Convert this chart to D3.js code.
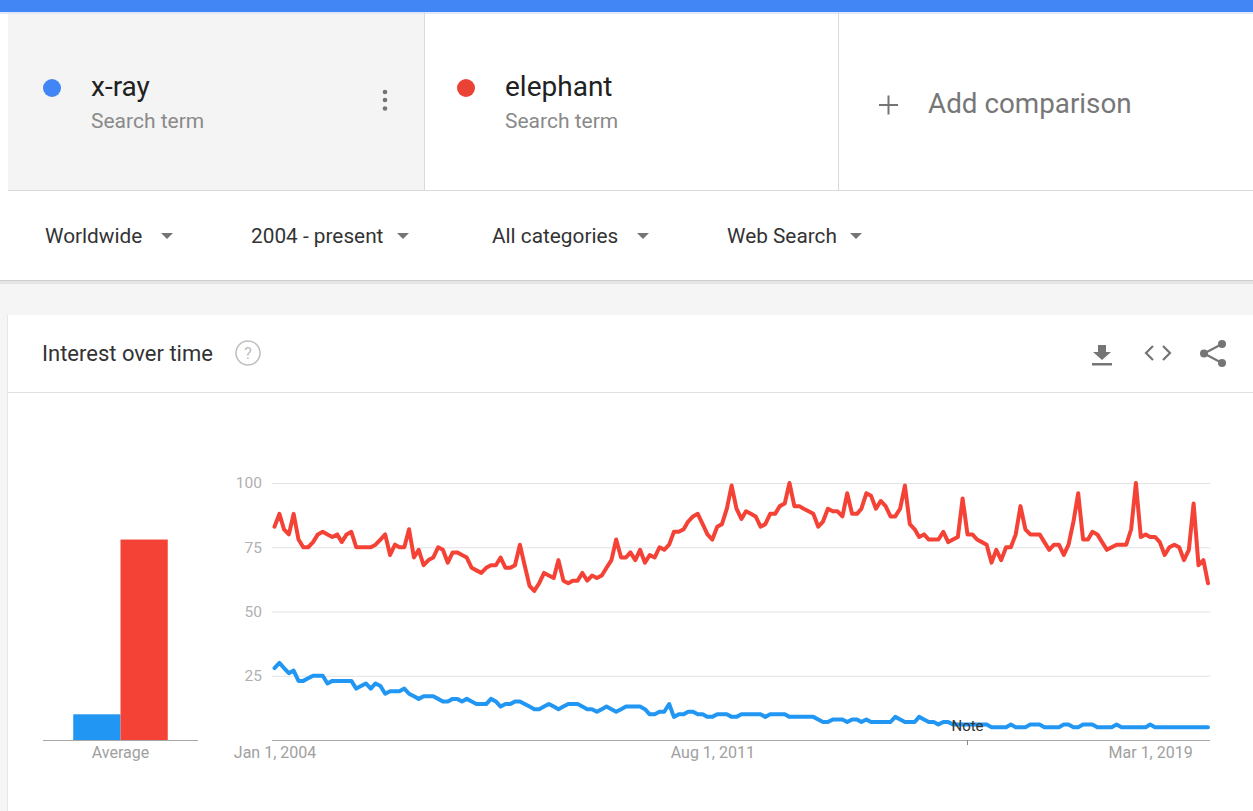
<!DOCTYPE html>
<html>
<head>
<meta charset="utf-8">
<script src="https://cdn.jsdelivr.net/npm/d3@7"></script>
<style>
  body { margin: 0; background: #fff; font-family: Roboto, "Noto Sans", sans-serif; }
</style>
</head>
<body>
<div id="page"></div>
<script>
var terms = ["x-ray", "elephant"];
var subtitle = "Search term";
var filters = ["Worldwide", "2004 - present", "All categories", "Web Search"];
var startMonth = "2004-01";
var xray = [
  28, 30, 28, 26, 27, 23, 23, 24, 25, 25,
  25, 22, 23, 23, 23, 23, 23, 20, 21, 22,
  20, 22, 21, 18, 19, 19, 19, 20, 18, 17,
  16, 17, 17, 17, 16, 15, 15, 16, 16, 15,
  16, 15, 14, 14, 14, 16, 15, 13, 14, 14,
  15, 15, 14, 13, 12, 12, 13, 14, 13, 12,
  13, 14, 14, 14, 13, 12, 12, 11, 12, 13,
  12, 11, 12, 13, 13, 13, 13, 12, 10, 10,
  11, 11, 14, 9, 10, 10, 11, 11, 10, 10,
  9, 9, 10, 10, 10, 9, 9, 10, 10, 10,
  10, 10, 9, 10, 10, 10, 10, 9, 9, 9,
  9, 9, 9, 8, 7, 7, 8, 8, 8, 7,
  8, 8, 7, 8, 7, 7, 7, 7, 7, 9,
  8, 7, 7, 7, 9, 8, 7, 7, 6, 7,
  7, 6, 6, 6, 6, 6, 6, 6, 6, 5,
  5, 5, 5, 6, 5, 5, 5, 6, 6, 6,
  5, 5, 5, 5, 6, 6, 5, 5, 6, 6,
  6, 5, 5, 5, 5, 6, 5, 5, 5, 5,
  5, 5, 6, 5, 5, 5, 5, 5, 5, 5,
  5, 5, 5, 5, 5
];
var elephant = [
  83, 88, 82, 80, 88, 78, 75, 75, 77, 80,
  81, 80, 79, 80, 77, 80, 81, 75, 75, 75,
  75, 76, 78, 80, 72, 76, 75, 75, 82, 71,
  74, 68, 70, 71, 75, 74, 69, 73, 73, 72,
  71, 67, 66, 65, 67, 68, 68, 71, 67, 67,
  68, 76, 68, 60, 58, 61, 65, 64, 63, 70,
  62, 61, 62, 62, 65, 62, 64, 63, 64, 67,
  70, 78, 71, 71, 73, 70, 74, 69, 72, 71,
  75, 74, 76, 81, 81, 82, 85, 87, 88, 84,
  80, 78, 83, 84, 90, 99, 90, 86, 89, 88,
  87, 83, 84, 88, 88, 91, 92, 100, 91, 91,
  90, 89, 88, 83, 85, 90, 89, 89, 87, 96,
  88, 88, 90, 96, 95, 90, 93, 91, 87, 87,
  90, 99, 84, 82, 79, 80, 78, 78, 78, 81,
  77, 78, 79, 94, 80, 80, 78, 77, 76, 69,
  74, 70, 75, 75, 80, 91, 82, 80, 80, 80,
  77, 74, 76, 76, 72, 76, 85, 96, 78, 78,
  81, 80, 77, 74, 75, 76, 76, 76, 82, 100,
  79, 80, 79, 79, 77, 72, 75, 76, 75, 70,
  74, 92, 68, 70, 61
];
var averages = [10, 78];
var yTicks = [25, 50, 75, 100];
var xTickDates = ["2004-01-01", "2011-08-01", "2019-03-01"];
var noteDate = "2016-01-01";
var noteLabel = "Note";

(function() {
  var W = 1253, H = 811;
  var blue = "#2196f3", red = "#f44336";
  var dotColors = ["#4285f4", "#ea4335"];
  var lineColors = [blue, red];

  var svg = d3.select("#page").append("svg").attr("width", W).attr("height", H)
    .style("display", "block").style("font-family", "Roboto, 'Noto Sans', sans-serif");

  // page background + sections
  svg.append("rect").attr("width", W).attr("height", H).attr("fill", "#fff");
  svg.append("rect").attr("x", 0).attr("y", 281).attr("width", W).attr("height", H - 281).attr("fill", "#f5f5f5");
  svg.append("rect").attr("x", 8).attr("y", 315).attr("width", W - 8).attr("height", H - 315).attr("fill", "#fff");
  svg.append("line").attr("x1", 7.5).attr("x2", 7.5).attr("y1", 315).attr("y2", H).attr("stroke", "#e6e6e6");

  // top blue band
  svg.append("rect").attr("x", 0).attr("y", 0).attr("width", W).attr("height", 12).attr("fill", "#4285f4");
  svg.append("rect").attr("x", 0).attr("y", 12).attr("width", W).attr("height", 2).attr("fill", "#c9d8f5").attr("opacity", 0.6);

  // term cards
  svg.append("rect").attr("x", 8).attr("y", 14).attr("width", 416).attr("height", 176).attr("fill", "#f4f4f4");
  [424.5, 838.5].forEach(function(x) {
    svg.append("line").attr("x1", x).attr("x2", x).attr("y1", 12).attr("y2", 190).attr("stroke", "#dadada");
  });
  svg.append("line").attr("x1", 8).attr("x2", W).attr("y1", 190.5).attr("y2", 190.5).attr("stroke", "#dadada");

  var cardX = [52, 466];
  terms.forEach(function(t, i) {
    svg.append("circle").attr("cx", cardX[i]).attr("cy", 88).attr("r", 9).attr("fill", dotColors[i]);
    svg.append("text").attr("x", cardX[i] + 39).attr("y", 96).attr("font-size", 28).attr("fill", "#212121").text(t);
    svg.append("text").attr("x", cardX[i] + 39).attr("y", 127.5).attr("font-size", 21).attr("fill", "#8a8a8a").text(subtitle);
  });
  [92, 100, 108.5].forEach(function(cy) {
    svg.append("circle").attr("cx", 385).attr("cy", cy).attr("r", 2.3).attr("fill", "#757575");
  });
  svg.append("line").attr("x1", 879).attr("x2", 898).attr("y1", 105).attr("y2", 105).attr("stroke", "#757575").attr("stroke-width", 2);
  svg.append("line").attr("x1", 888.5).attr("x2", 888.5).attr("y1", 95.5).attr("y2", 114.5).attr("stroke", "#757575").attr("stroke-width", 2);
  svg.append("text").attr("x", 928).attr("y", 113).attr("font-size", 27.8).attr("fill", "#777").text("Add comparison");

  // filter bar
  var filterX = [45, 251, 492, 727], arrowX = [167, 403, 643, 856];
  filters.forEach(function(f, i) {
    svg.append("text").attr("x", filterX[i]).attr("y", 243).attr("font-size", 20.8).attr("fill", "#333").text(f);
    svg.append("path").attr("d", "M" + (arrowX[i] - 6) + ",233 L" + (arrowX[i] + 6) + ",233 L" + arrowX[i] + ",239 Z").attr("fill", "#757575");
  });
  svg.append("line").attr("x1", 0).attr("x2", W).attr("y1", 280.5).attr("y2", 280.5).attr("stroke", "#cfcfcf");
  svg.append("rect").attr("x", 0).attr("y", 281).attr("width", W).attr("height", 3).attr("fill", "#e4e4e4");

  // chart card header
  svg.append("text").attr("x", 42).attr("y", 361).attr("font-size", 22).attr("fill", "#333").text("Interest over time");
  svg.append("circle").attr("cx", 248).attr("cy", 353).attr("r", 12).attr("fill", "none").attr("stroke", "#bdbdbd").attr("stroke-width", 1.5);
  svg.append("text").attr("x", 248).attr("y", 359).attr("text-anchor", "middle").attr("font-size", 16).attr("fill", "#bdbdbd").text("?");
  svg.append("line").attr("x1", 8).attr("x2", W).attr("y1", 392.5).attr("y2", 392.5).attr("stroke", "#e0e0e0");

  var icon = svg.append("g").attr("fill", "#757575").attr("stroke", "#757575");
  icon.append("path").attr("d", "M1098,345 L1106,345 L1106,352 L1111,352 L1102,360 L1093,352 L1098,352 Z").attr("stroke", "none");
  icon.append("rect").attr("x", 1092).attr("y", 363).attr("width", 20).attr("height", 2.5).attr("stroke", "none");
  icon.append("path").attr("d", "M1153,346 L1146,353 L1153,360 M1163,346 L1170,353 L1163,360").attr("fill", "none").attr("stroke-width", 2.2);
  icon.append("path").attr("d", "M1222,344 L1204,353.5 L1222,363").attr("fill", "none").attr("stroke-width", 2.2);
  [[1222, 344], [1204, 353.5], [1222, 363]].forEach(function(p) {
    icon.append("circle").attr("cx", p[0]).attr("cy", p[1]).attr("r", 4).attr("stroke", "none");
  });

  // scales
  var parseMonth = d3.timeParse("%Y-%m"), parseDay = d3.timeParse("%Y-%m-%d");
  var months = xray.map(function(d, i) { return d3.timeMonth.offset(parseMonth(startMonth), i); });
  var x = d3.scaleTime().domain(d3.extent(months)).range([274.5, 1208]);
  var y = d3.scaleLinear().domain([0, 100]).range([740, 483]);

  // grid + y labels
  var gy = svg.append("g").attr("transform", "translate(272,0)")
    .call(d3.axisLeft(y).tickValues(yTicks).tickSize(-938).tickPadding(10));
  gy.select(".domain").remove();
  gy.selectAll(".tick line").attr("stroke", "#e3e3e3");
  gy.selectAll("text").attr("fill", "#b0b0b0").attr("font-size", 15.5).attr("font-family", "Roboto, sans-serif");

  svg.append("line").attr("x1", 272).attr("x2", 1210).attr("y1", 740.5).attr("y2", 740.5).attr("stroke", "#a8a8a8");

  var gx = svg.append("g").attr("transform", "translate(0,740)")
    .call(d3.axisBottom(x).tickValues(xTickDates.map(parseDay)).tickFormat(d3.timeFormat("%b %-d, %Y")).tickSize(0).tickPadding(6.5));
  gx.select(".domain").remove();
  gx.selectAll("text").attr("fill", "#a0a0a0").attr("font-size", 16).attr("font-family", "Roboto, sans-serif");

  // lines
  var valueline = d3.line().x(function(d, i) { return x(months[i]); }).y(function(d) { return y(d); });
  [xray, elephant].forEach(function(series, i) {
    svg.append("path").datum(series).attr("d", valueline).attr("fill", "none")
      .attr("stroke", lineColors[i]).attr("stroke-width", 4).attr("stroke-linejoin", "round").attr("stroke-linecap", "round");
  });

  // note marker
  var nx = x(parseDay(noteDate));
  svg.append("line").attr("x1", nx).attr("x2", nx).attr("y1", 740).attr("y2", 745).attr("stroke", "#888");
  svg.append("text").attr("x", nx).attr("y", 731).attr("text-anchor", "middle").attr("font-size", 15).attr("fill", "#333").text(noteLabel);

  // average bars
  var xb = d3.scaleBand().domain(["Average"]).range([43, 198]);
  var xs = d3.scaleBand().domain(terms).range([0, xb.bandwidth()]).paddingInner(0).paddingOuter(0.64);
  svg.append("g").selectAll("rect").data(averages).enter().append("rect")
    .attr("x", function(d, i) { return xb("Average") + xs(terms[i]); })
    .attr("y", function(d) { return y(d); })
    .attr("width", xs.bandwidth())
    .attr("height", function(d) { return y(0) - y(d); })
    .attr("fill", function(d, i) { return lineColors[i]; });
  svg.append("line").attr("x1", 43).attr("x2", 198).attr("y1", 740.5).attr("y2", 740.5).attr("stroke", "#a8a8a8");
  svg.append("text").attr("x", xb("Average") + xb.bandwidth() / 2).attr("y", 758).attr("text-anchor", "middle")
    .attr("font-size", 16).attr("fill", "#a0a0a0").text("Average");
})();
</script>
</body>
</html>
